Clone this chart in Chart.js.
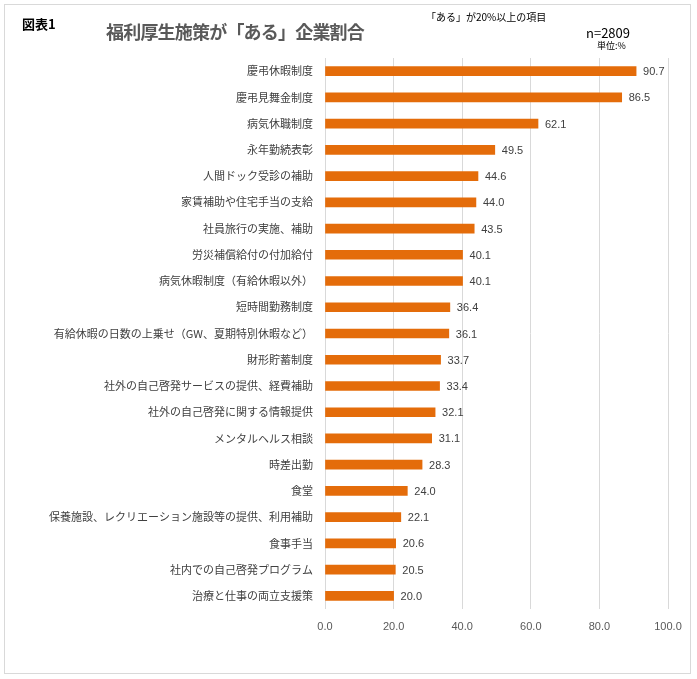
<!DOCTYPE html>
<html><head><meta charset="utf-8">
<script src="https://cdn.jsdelivr.net/npm/chart.js@4"></script>
<style>
html,body{margin:0;padding:0;background:#fff;}
#wrap{position:relative;width:697px;height:679px;overflow:hidden;}
#frame{position:absolute;left:4px;top:4px;width:687px;height:670px;border:1px solid #D9D9D9;box-sizing:border-box;}
canvas{position:absolute;left:0;top:0;}
.t{position:absolute;white-space:nowrap;font-family:"Noto Sans CJK JP","Noto Sans",sans-serif;}
</style></head>
<body><div id="wrap">
<div id="frame"></div>
<canvas id="c" width="697" height="679"></canvas>
<div class="t" style="left:22px;top:14px;font-size:13px;font-weight:bold;color:#000;">図表1</div>
<div class="t" style="left:106px;top:18px;font-size:18px;font-weight:bold;color:#595959;letter-spacing:-0.8px;">福利厚生施策が「ある」企業割合</div>
<div class="t" style="left:426px;top:9px;font-size:10px;color:#000;">「ある」が20%以上の項目</div>
<div class="t" style="left:586px;top:23px;font-size:13px;color:#000;">n=2809</div>
<div class="t" style="left:597px;top:39px;font-size:9px;color:#000;">単位:%</div>
</div>
<script>
const categories = [
 "慶弔休暇制度","慶弔見舞金制度","病気休職制度","永年勤続表彰","人間ドック受診の補助",
 "家賃補助や住宅手当の支給","社員旅行の実施、補助","労災補償給付の付加給付","病気休暇制度（有給休暇以外）",
 "短時間勤務制度","有給休暇の日数の上乗せ（GW、夏期特別休暇など）","財形貯蓄制度",
 "社外の自己啓発サービスの提供、経費補助","社外の自己啓発に関する情報提供","メンタルヘルス相談",
 "時差出勤","食堂","保養施設、レクリエーション施設等の提供、利用補助","食事手当",
 "社内での自己啓発プログラム","治療と仕事の両立支援策"
];
const values = [90.7,86.5,62.1,49.5,44.6,44.0,43.5,40.1,40.1,36.4,36.1,33.7,33.4,32.1,31.1,28.3,24.0,22.1,20.6,20.5,20.0];
const xTicks = [0,20,40,60,80,100];

const valueLabels = {
  id:'valueLabels',
  afterDatasetsDraw(chart){
    const ctx = chart.ctx;
    const meta = chart.getDatasetMeta(0);
    ctx.save();
    ctx.font = '11px "Liberation Sans","Noto Sans",sans-serif';
    ctx.fillStyle = '#404040';
    ctx.textAlign = 'left';
    ctx.textBaseline = 'middle';
    meta.data.forEach((bar,i)=>{
      ctx.fillText(values[i].toFixed(1), bar.x + 7, bar.y + 1);
    });
    ctx.restore();
  }
};

new Chart(document.getElementById('c'), {
  type:'bar',
  data:{labels:categories,datasets:[{data:values,backgroundColor:'#E46C0A',borderWidth:0,barThickness:9}]},
  options:{
    indexAxis:'y',
    responsive:false,
    animation:false,
    devicePixelRatio:1,
    layout:{padding:{left:0,right:29,top:58,bottom:40}},
    plugins:{legend:{display:false},tooltip:{enabled:false}},
    scales:{
      x:{
        min:0,max:100,
        afterBuildTicks(s){ s.ticks = xTicks.map(v=>({value:v})); },
        afterFit(s){ s.height = 30; },
        grid:{color:'#D9D9D9',drawTicks:false,lineWidth:1},
        border:{display:false},
        ticks:{padding:11,color:'#595959',font:{family:'"Liberation Sans","Noto Sans",sans-serif',size:11},callback:(v)=>Number(v).toFixed(1)}
      },
      y:{
        afterFit(s){ s.width = 325; },
        grid:{display:false,drawTicks:false},
        border:{display:false},
        ticks:{padding:12,color:'#404040',autoSkip:false,font:{family:'"Noto Sans CJK JP",sans-serif',size:11}}
      }
    }
  },
  plugins:[valueLabels]
});
</script>
</body></html>
